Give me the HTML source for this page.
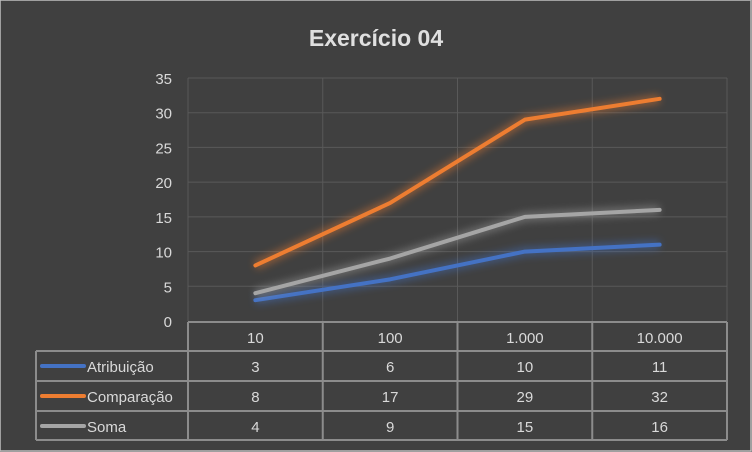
<!DOCTYPE html>
<html><head><meta charset="utf-8"><style>
body{margin:0;background:#404040;}
#c{width:752px;height:452px;position:relative;background:#404040;overflow:hidden;}
text{font-family:"Liberation Sans",sans-serif;}
</style></head><body>
<div id="c">
<svg id="s" width="752" height="452" xmlns="http://www.w3.org/2000/svg">
<defs><filter id="glow" x="-20%" y="-50%" width="140%" height="200%"><feGaussianBlur stdDeviation="4"/></filter></defs>
<rect x="0" y="0" width="751" height="451" fill="#404040" stroke="#bfbfbf" stroke-width="1.5"/>
<text x="376" y="46" text-anchor="middle" font-size="23" font-weight="bold" fill="#e0e0e0">Exercício 04</text>
</svg>
</div>
<script>
const categories=["10","100","1.000","10.000"];
const seriesNames=["Atribuição","Comparação","Soma"];
const atribuicao=[3,6,10,11];
const comparacao=[8,17,29,32];
const soma=[4,9,15,16];
const yTicks=[0,5,10,15,20,25,30,35];
const series=[atribuicao,comparacao,soma];
const colors=["#4472c4","#ed7d31","#a5a5a5"];
const NS="http://www.w3.org/2000/svg";
const svg=document.getElementById('s');
const X0=188,X1=727,Y0=321,Y1=78,YMAX=35;
const cw=(X1-X0)/categories.length;
const xs=i=>X0+cw*(i+0.5);
const ys=v=>Y0-(v/YMAX)*(Y0-Y1);
function el(t,a){const e=document.createElementNS(NS,t);for(const k in a)e.setAttribute(k,a[k]);svg.appendChild(e);return e;}
yTicks.forEach(t=>{
 if(t>0){const g=el('line',{x1:X0,x2:X1,y1:ys(t),y2:ys(t),stroke:'#595959','stroke-width':1});
 
 }
 const tx=el('text',{x:172,y:ys(t)+6,'text-anchor':'end','font-size':15,fill:'#d9d9d9'});
 tx.textContent=t;
 
 
});
for(let i=0;i<=categories.length;i++){
 const x=X0+cw*i;
 const g=el('line',{x1:x,x2:x,y1:Y1,y2:Y0,stroke:'#595959','stroke-width':1});
 
 
}
series.forEach((d,si)=>{
 const pts=d.map((v,i)=>xs(i)+','+ys(v)).join(' ');
 const gl=el('polyline',{points:pts,fill:'none',stroke:colors[si],'stroke-width':9,opacity:0.45,filter:'url(#glow)','stroke-linejoin':'round'});
 
 
 const l=el('polyline',{points:pts,fill:'none',stroke:colors[si],'stroke-width':4,'stroke-linejoin':'round','stroke-linecap':'round'});
 
 
});
// table
const TL=36,rows=[322,351,381,411,440],tc='#8c8c8c';
function ln(x1,y1,x2,y2){const l=el('line',{x1,y1,x2,y2,stroke:tc,'stroke-width':2});
 
 }
ln(X0,rows[0],X1,rows[0]);
for(let r=1;r<rows.length;r++)ln(TL,rows[r],X1,rows[r]);
ln(TL,rows[1],TL,rows[4]);
for(let i=0;i<=categories.length;i++)ln(X0+cw*i,rows[0],X0+cw*i,rows[4]);
categories.forEach((c,i)=>{
 const t=el('text',{x:xs(i),y:rows[0]+21,'text-anchor':'middle','font-size':15,fill:'#d9d9d9'});
 t.textContent=c;
 
 
});
series.forEach((d,si)=>{
 const ry=rows[si+1]+21;
 const k=el('line',{x1:42,x2:84,y1:ry-6,y2:ry-6,stroke:colors[si],'stroke-width':4,'stroke-linecap':'round'});
 
 
 const n=el('text',{x:87,y:ry,'font-size':15,fill:'#d9d9d9'});
 n.textContent=seriesNames[si];
 
 
 d.forEach((v,i)=>{
  const t=el('text',{x:xs(i),y:ry,'text-anchor':'middle','font-size':15,fill:'#d9d9d9'});
  t.textContent=v;
  
  
 });
});
</script>
</body></html>
